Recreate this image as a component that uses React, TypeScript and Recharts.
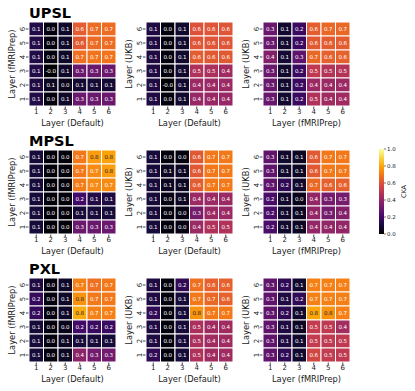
import React from 'react';
import { ScatterChart, Scatter, XAxis, YAxis, ReferenceArea } from 'recharts';

const LAYERS = [1, 2, 3, 4, 5, 6];
const COLORBAR_TICKS = [0, 0.2, 0.4, 0.6, 0.8, 1.0];
const PIPELINES = ['UPSL', 'MPSL', 'PXL'];
const X_LABELS = ['Layer (Default)', 'Layer (Default)', 'Layer (fMRIPrep)'];
const Y_LABELS = ['Layer (fMRIPrep)', 'Layer (UKB)', 'Layer (UKB)'];
const COLORBAR_LABEL = 'CKA';

// Each matrix: rows from layer 6 (top) down to layer 1 (bottom); columns layer 1..6
const UPSL_DEF_FMRI = [
  [0.13, 0.02, 0.07, 0.63, 0.67, 0.67],
  [0.13, 0.02, 0.07, 0.62, 0.67, 0.67],
  [0.13, 0.02, 0.07, 0.68, 0.69, 0.69],
  [0.13, -0.01, 0.07, 0.30, 0.30, 0.30],
  [0.12, 0.06, 0.04, 0.09, 0.09, 0.09],
  [0.13, 0.02, 0.07, 0.30, 0.30, 0.30],
];
const UPSL_DEF_UKB = [
  [0.12, 0.02, 0.08, 0.60, 0.61, 0.61],
  [0.12, 0.02, 0.08, 0.61, 0.61, 0.61],
  [0.12, 0.02, 0.08, 0.63, 0.62, 0.62],
  [0.12, 0.02, 0.08, 0.47, 0.46, 0.43],
  [0.12, -0.01, 0.08, 0.42, 0.42, 0.42],
  [0.12, 0.02, 0.08, 0.41, 0.41, 0.41],
];
const UPSL_FMRI_UKB = [
  [0.30, 0.08, 0.18, 0.63, 0.66, 0.66],
  [0.30, 0.08, 0.18, 0.62, 0.63, 0.63],
  [0.36, 0.09, 0.27, 0.66, 0.64, 0.64],
  [0.30, 0.08, 0.18, 0.51, 0.48, 0.48],
  [0.30, 0.08, 0.18, 0.42, 0.42, 0.42],
  [0.30, 0.08, 0.18, 0.47, 0.43, 0.43],
];
const MPSL_DEF_FMRI = [
  [0.10, 0.01, 0.01, 0.70, 0.78, 0.79],
  [0.10, 0.01, 0.01, 0.70, 0.74, 0.78],
  [0.10, 0.01, 0.01, 0.71, 0.74, 0.74],
  [0.10, 0.01, 0.01, 0.20, 0.13, 0.12],
  [0.10, 0.01, 0.01, 0.10, 0.10, 0.10],
  [0.10, 0.01, 0.01, 0.30, 0.30, 0.30],
];
const MPSL_DEF_UKB = [
  [0.10, 0.02, 0.02, 0.62, 0.70, 0.70],
  [0.10, 0.06, 0.06, 0.62, 0.70, 0.70],
  [0.10, 0.06, 0.06, 0.63, 0.70, 0.70],
  [0.10, 0.03, 0.06, 0.42, 0.42, 0.42],
  [0.10, 0.02, 0.03, 0.33, 0.42, 0.42],
  [0.10, 0.02, 0.03, 0.42, 0.47, 0.47],
];
const MPSL_FMRI_UKB = [
  [0.28, 0.08, 0.06, 0.62, 0.70, 0.70],
  [0.28, 0.08, 0.06, 0.62, 0.70, 0.70],
  [0.28, 0.16, 0.08, 0.66, 0.64, 0.64],
  [0.22, 0.08, 0.04, 0.40, 0.33, 0.33],
  [0.22, 0.08, 0.06, 0.40, 0.33, 0.36],
  [0.22, 0.08, 0.06, 0.40, 0.40, 0.40],
];
const PXL_DEF_FMRI = [
  [0.12, 0.02, 0.07, 0.72, 0.68, 0.70],
  [0.17, 0.02, 0.07, 0.76, 0.70, 0.70],
  [0.17, 0.02, 0.07, 0.81, 0.72, 0.72],
  [0.10, 0.02, 0.04, 0.20, 0.18, 0.18],
  [0.10, 0.02, 0.06, 0.10, 0.10, 0.10],
  [0.10, 0.02, 0.06, 0.38, 0.32, 0.32],
];
const PXL_DEF_UKB = [
  [0.12, 0.02, 0.16, 0.68, 0.64, 0.64],
  [0.12, 0.02, 0.10, 0.70, 0.66, 0.64],
  [0.16, 0.02, 0.10, 0.76, 0.70, 0.70],
  [0.12, 0.02, 0.10, 0.46, 0.43, 0.43],
  [0.12, 0.02, 0.10, 0.46, 0.43, 0.43],
  [0.16, 0.02, 0.10, 0.47, 0.43, 0.43],
];
const PXL_FMRI_UKB = [
  [0.28, 0.16, 0.08, 0.72, 0.72, 0.72],
  [0.28, 0.12, 0.16, 0.72, 0.72, 0.72],
  [0.28, 0.16, 0.08, 0.80, 0.76, 0.72],
  [0.28, 0.12, 0.06, 0.52, 0.51, 0.44],
  [0.28, 0.12, 0.08, 0.52, 0.51, 0.51],
  [0.28, 0.16, 0.08, 0.56, 0.52, 0.51],
];

const GRID = [
  [UPSL_DEF_FMRI, UPSL_DEF_UKB, UPSL_FMRI_UKB],
  [MPSL_DEF_FMRI, MPSL_DEF_UKB, MPSL_FMRI_UKB],
  [PXL_DEF_FMRI, PXL_DEF_UKB, PXL_FMRI_UKB],
];

// inferno colormap stops
const INFERNO = ['#000004', '#160b39', '#420a68', '#6a176e', '#932667', '#bc3754', '#dd513a', '#f37819', '#fca50a', '#f6d746', '#fcffa4'];

const hexToRgb = (h: string) => [parseInt(h.slice(1, 3), 16), parseInt(h.slice(3, 5), 16), parseInt(h.slice(5, 7), 16)];
const inferno = (v: number) => {
  const t = Math.max(0, Math.min(1, v)) * 10;
  const i = Math.min(9, Math.floor(t));
  const f = t - i;
  const a = hexToRgb(INFERNO[i]);
  const b = hexToRgb(INFERNO[i + 1]);
  return a.map((c, k) => Math.round(c + (b[k] - c) * f));
};
const rgbStr = (c: number[]) => `rgb(${c[0]},${c[1]},${c[2]})`;
const lum = (c: number[]) => {
  const l = c.map((x) => {
    const s = x / 255;
    return s <= 0.03928 ? s / 12.92 : Math.pow((s + 0.055) / 1.055, 2.4);
  });
  return 0.2126 * l[0] + 0.7152 * l[1] + 0.0722 * l[2];
};

const FONT = '"DejaVu Sans", sans-serif';
const TEXT = '#1a1a1a';
const COL_X = [29, 146, 262.5];
const ROW_Y = [22, 149.5, 277.5];
const PLOT_W = 87;
const PLOT_H = 84;
const Y_AXIS_W = 28;
const M_TOP = 4;
const M_RIGHT = 4;
const X_AXIS_H = 30;

const YTick = (props: any) => {
  const { x, y, payload } = props;
  return (
    <g transform={`translate(${x - 3.2},${y})`}>
      <text transform="rotate(-90)" textAnchor="middle" dy="0.35em" fontSize={7} fill={TEXT} fontFamily={FONT}>
        {payload.value}
      </text>
    </g>
  );
};

const Heatmap = ({ matrix, xLabel, yLabel, left, top }: any) => {
  const data: any[] = [];
  matrix.forEach((row: number[], r: number) => {
    row.forEach((v: number, c: number) => {
      data.push({ x: LAYERS[c], y: LAYERS[5 - r], v });
    });
  });
  const cw = PLOT_W / 6;
  const ch = PLOT_H / 6;
  const shape = (p: any) => {
    const { cx, cy, payload } = p;
    const col = inferno(payload.v);
    const txt = lum(col) > 0.408 ? '#262626' : '#ffffff';
    return (
      <g>
        <rect x={cx - cw / 2} y={cy - ch / 2} width={cw} height={ch} fill={rgbStr(col)} stroke="#ffffff" strokeWidth={1} />
        <text x={cx} y={cy} dy="0.36em" textAnchor="middle" fontSize={5.5} fill={txt} fontFamily={FONT}>
          {payload.v.toFixed(1)}
        </text>
      </g>
    );
  };
  return (
    <div style={{ position: 'absolute', left: left - Y_AXIS_W, top: top - M_TOP }}>
      <ScatterChart
        width={Y_AXIS_W + PLOT_W + M_RIGHT}
        height={M_TOP + PLOT_H + X_AXIS_H}
        margin={{ top: M_TOP, right: M_RIGHT, left: 0, bottom: 0 }}
      >
        <XAxis
          type="number"
          dataKey="x"
          domain={[0.5, 6.5]}
          ticks={LAYERS}
          interval={0}
          height={X_AXIS_H}
          axisLine={false}
          tickSize={3}
          tickMargin={0}
          tickLine={{ stroke: TEXT, strokeWidth: 0.8 }}
          tick={{ fontSize: 7, fill: TEXT, fontFamily: FONT }}
          label={(lp: any) => {
            const vb = lp.viewBox;
            return (
              <text x={vb.x + vb.width / 2} y={vb.y + 20} textAnchor="middle" fontSize={8.3} fill={TEXT} fontFamily={FONT}>
                {xLabel}
              </text>
            );
          }}
        />
        <YAxis
          type="number"
          dataKey="y"
          domain={[0.5, 6.5]}
          ticks={LAYERS}
          interval={0}
          width={Y_AXIS_W}
          axisLine={false}
          tickSize={3}
          tickMargin={0}
          tickLine={{ stroke: TEXT, strokeWidth: 0.8 }}
          tick={<YTick />}
          label={(lp: any) => {
            const vb = lp.viewBox;
            const cx = vb.x + vb.width - 16.5;
            const cy = vb.y + vb.height / 2;
            return (
              <text x={cx} y={cy} dy="0.35em" transform={`rotate(-90,${cx},${cy})`} textAnchor="middle" fontSize={8.3} fill={TEXT} fontFamily={FONT}>
                {yLabel}
              </text>
            );
          }}
        />
        <Scatter data={data} shape={shape} isAnimationActive={false} />
      </ScatterChart>
    </div>
  );
};

// colorbar anchor points (one per tick level) so the chart has data; drawn invisibly
const colorbarData = COLORBAR_TICKS.map((t) => ({ x: 0.5, y: t }));

export default function App() {
  const titleY = [18, 146, 274];
  return (
    <div style={{ position: 'absolute', left: 0, top: 0, width: 415, height: 391, background: '#fff', fontFamily: FONT }}>
      <svg width={0} height={0} style={{ position: 'absolute' }}>
        <defs>
          <linearGradient id="infernoGrad" x1="0" y1="1" x2="0" y2="0">
            {INFERNO.map((c, i) => (
              <stop key={i} offset={`${i * 10}%`} stopColor={c} />
            ))}
          </linearGradient>
        </defs>
      </svg>
      <svg width={415} height={391} style={{ position: 'absolute', left: 0, top: 0 }}>
        {PIPELINES.map((p, i) => (
          <text key={p} x={29} y={titleY[i]} fontSize={14.5} fontWeight="bold" fill="#000" fontFamily={FONT}>
            {p}
          </text>
        ))}
        <text x={404} y={191.5} dy="0.35em" transform="rotate(-90,404,191.5)" textAnchor="middle" fontSize={6.5} fill={TEXT} fontFamily={FONT}>
          {COLORBAR_LABEL}
        </text>
      </svg>
      {GRID.map((row, r) =>
        row.map((m, c) => (
          <Heatmap key={`${r}-${c}`} matrix={m} xLabel={X_LABELS[c]} yLabel={Y_LABELS[c]} left={COL_X[c]} top={ROW_Y[r]} />
        ))
      )}
      <div style={{ position: 'absolute', left: 379, top: 144 }}>
        <ScatterChart width={35} height={95} margin={{ top: 5, right: 0, left: 0, bottom: 5 }}>
          <XAxis type="number" dataKey="x" domain={[0, 1]} hide />
          <YAxis
            type="number"
            dataKey="y"
            orientation="right"
            domain={[0, 1]}
            ticks={COLORBAR_TICKS}
            interval={0}
            width={30}
            axisLine={false}
            tickSize={2}
            tickMargin={1}
            tickLine={{ stroke: TEXT, strokeWidth: 0.6 }}
            tick={{ fontSize: 5.5, fill: TEXT, fontFamily: FONT }}
            tickFormatter={(v: number) => v.toFixed(1)}
          />
          <ReferenceArea x1={0} x2={1} y1={0} y2={1} fill="url(#infernoGrad)" fillOpacity={1} stroke="none" ifOverflow="visible" />
          <Scatter data={colorbarData} shape={() => <g />} isAnimationActive={false} />
        </ScatterChart>
      </div>
    </div>
  );
}
